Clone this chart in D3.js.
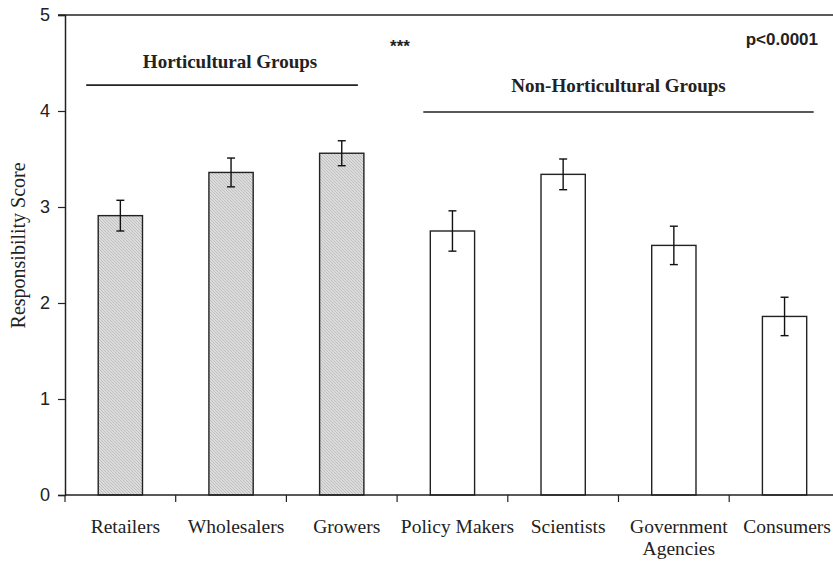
<!DOCTYPE html>
<html>
<head>
<meta charset="utf-8">
<script src="https://cdn.jsdelivr.net/npm/d3@7"></script>
<style>
  body { margin: 0; background: #fff; }
  svg { display: block; }
</style>
</head>
<body>
<div id="chart"></div>
<script>
// data
var categories = ['Retailers', 'Wholesalers', 'Growers', 'Policy Makers', 'Scientists', 'Government Agencies', 'Consumers']
var labelLines = [['Retailers'], ['Wholesalers'], ['Growers'], ['Policy Makers'], ['Scientists'], ['Government', 'Agencies'], ['Consumers']]
var means = [2.91, 3.36, 3.56, 2.75, 3.34, 2.60, 1.86]
var errors = [0.16, 0.15, 0.13, 0.21, 0.16, 0.20, 0.20]
var horticultural = [true, true, true, false, false, false, false]
var yTicks = [0, 1, 2, 3, 4, 5]

var width = 833
var height = 562
var margin = { top: 15, left: 65, bottom: 67 }

var svg = d3.select('#chart')
  .append('svg')
  .attr('width', width)
  .attr('height', height)

// light diagonal hatch for the horticultural bars
var defs = svg.append('defs')
var pat = defs.append('pattern')
  .attr('id', 'hatch')
  .attr('patternUnits', 'userSpaceOnUse')
  .attr('width', 3)
  .attr('height', 3)
pat.append('rect').attr('width', 3).attr('height', 3).attr('fill', '#dcdcdc')
pat.append('path')
  .attr('d', 'M0,0 L3,3 M-1,2 L1,4 M2,-1 L4,1')
  .attr('stroke', '#b8b8b8')
  .attr('stroke-width', 0.8)

var step = 110.7
var xPositionScale = d3.scaleBand()
  .domain(categories)
  .range([margin.left, margin.left + categories.length * step])
  .paddingInner(0.6)
  .paddingOuter(0.3)

var yPositionScale = d3.scaleLinear()
  .domain([0, 5])
  .range([height - margin.bottom, margin.top])

var rows = categories.map(function (c, i) {
  return { cat: c, mean: means[i], err: errors[i], hort: horticultural[i], lines: labelLines[i] }
})

var center = d => xPositionScale(d) + xPositionScale.bandwidth() / 2

// top frame line
svg.append('line')
  .attr('x1', margin.left - 7)
  .attr('x2', width)
  .attr('y1', yPositionScale(5))
  .attr('y2', yPositionScale(5))
  .attr('stroke', '#5a5a5a')
  .attr('stroke-width', 2)

// bars
svg.selectAll('.bar')
  .data(rows)
  .enter()
  .append('rect')
  .attr('class', 'bar')
  .attr('x', d => xPositionScale(d.cat))
  .attr('width', xPositionScale.bandwidth())
  .attr('y', d => yPositionScale(d.mean))
  .attr('height', d => yPositionScale(0) - yPositionScale(d.mean))
  .attr('fill', d => d.hort ? 'url(#hatch)' : '#fff')
  .attr('stroke', '#222')
  .attr('stroke-width', 1.4)

// error bars
var eb = svg.selectAll('.err')
  .data(rows)
  .enter()
  .append('g')
  .attr('class', 'err')
  .attr('stroke', '#111')
  .attr('stroke-width', 1.4)
eb.append('line')
  .attr('x1', d => center(d.cat))
  .attr('x2', d => center(d.cat))
  .attr('y1', d => yPositionScale(d.mean - d.err))
  .attr('y2', d => yPositionScale(d.mean + d.err))
eb.selectAll('.cap')
  .data(d => [d.mean - d.err, d.mean + d.err].map(v => ({ cat: d.cat, v: v })))
  .enter()
  .append('line')
  .attr('class', 'cap')
  .attr('x1', d => center(d.cat) - 4)
  .attr('x2', d => center(d.cat) + 4)
  .attr('y1', d => yPositionScale(d.v))
  .attr('y2', d => yPositionScale(d.v))

// y axis
var yAxis = d3.axisLeft(yPositionScale).tickValues(yTicks).tickFormat(d3.format('d')).tickSize(7).tickPadding(8)
var yg = svg.append('g')
  .attr('class', 'axis y-axis')
  .attr('transform', `translate(${margin.left}, 0)`)
  .call(yAxis)
yg.select('.domain').attr('stroke', '#222').attr('stroke-width', 1.5)
yg.selectAll('.tick line').attr('stroke', '#222').attr('stroke-width', 1.2)
yg.selectAll('.tick text')
  .attr('font-family', 'Liberation Sans, Arial, sans-serif')
  .attr('font-size', 18)
  .attr('fill', '#222')

// x axis line + ticks between the categories
var y0 = yPositionScale(0)
var outer = xPositionScale.step() * xPositionScale.paddingOuter()
svg.append('line')
  .attr('x1', margin.left)
  .attr('x2', width)
  .attr('y1', y0)
  .attr('y2', y0)
  .attr('stroke', '#222')
  .attr('stroke-width', 1.5)
svg.selectAll('.xtick')
  .data(categories)
  .enter()
  .append('line')
  .attr('class', 'xtick')
  .attr('x1', d => xPositionScale(d) - outer)
  .attr('x2', d => xPositionScale(d) - outer)
  .attr('y1', y0)
  .attr('y2', y0 + 7)
  .attr('stroke', '#222')
  .attr('stroke-width', 1.2)

// x labels
var xl = svg.selectAll('.xlabel')
  .data(rows)
  .enter()
  .append('text')
  .attr('class', 'xlabel')
  .attr('text-anchor', 'middle')
  .attr('font-family', 'Liberation Serif, Times New Roman, serif')
  .attr('font-size', 19.5)
  .attr('fill', '#222')
xl.selectAll('tspan')
  .data(d => d.lines.map(l => ({ cat: d.cat, t: l })))
  .enter()
  .append('tspan')
  .attr('x', d => Math.min(center(d.cat) + 5, 787))
  .attr('y', (d, i) => y0 + 38 + i * 22)
  .text(d => d.t)

// y label
svg.append('text')
  .attr('transform', `translate(25, ${yPositionScale(2.6)}) rotate(-90)`)
  .attr('text-anchor', 'middle')
  .attr('font-family', 'Liberation Serif, Times New Roman, serif')
  .attr('font-size', 20)
  .attr('fill', '#222')
  .text('Responsibility Score')

// group annotations
var groups = [
  { name: 'Horticultural Groups', from: 'Retailers', to: 'Growers', padL: 12, padR: -6, textAt: 'Wholesalers', lineY: 4.27, textY: 4.45 },
  { name: 'Non-Horticultural Groups', from: 'Policy Makers', to: 'Consumers', padL: 7, padR: 7, textAt: null, lineY: 3.99, textY: 4.2 }
]
groups.forEach(function (g) {
  var x1 = xPositionScale(g.from) - g.padL
  var x2 = xPositionScale(g.to) + xPositionScale.bandwidth() + g.padR
  svg.append('line')
    .attr('x1', x1)
    .attr('x2', x2)
    .attr('y1', yPositionScale(g.lineY))
    .attr('y2', yPositionScale(g.lineY))
    .attr('stroke', '#222')
    .attr('stroke-width', 1.6)
  svg.append('text')
    .attr('x', g.textAt ? center(g.textAt) - 1 : (x1 + x2) / 2)
    .attr('y', yPositionScale(g.textY))
    .attr('text-anchor', 'middle')
    .attr('font-family', 'Liberation Serif, Times New Roman, serif')
    .attr('font-weight', 'bold')
    .attr('font-size', 19)
    .attr('fill', '#222')
    .text(g.name)
})

svg.append('text')
  .attr('x', 400)
  .attr('y', 52)
  .attr('text-anchor', 'middle')
  .attr('font-family', 'Liberation Sans, Arial, sans-serif')
  .attr('font-weight', 'bold')
  .attr('font-size', 17)
  .attr('fill', '#222')
  .text('***')

svg.append('text')
  .attr('x', 818)
  .attr('y', 45)
  .attr('text-anchor', 'end')
  .attr('font-family', 'Liberation Sans, Arial, sans-serif')
  .attr('font-weight', 'bold')
  .attr('font-size', 17)
  .attr('fill', '#222')
  .text('p<0.0001')
</script>
</body>
</html>
